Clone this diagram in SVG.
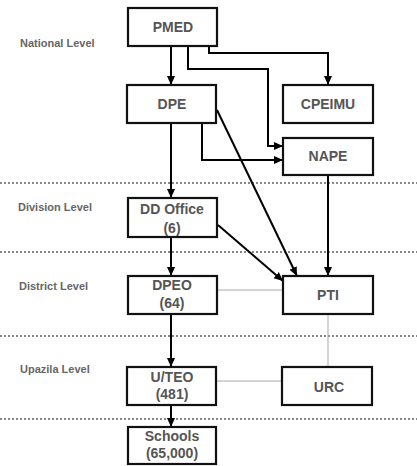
<svg xmlns="http://www.w3.org/2000/svg" width="417" height="466" viewBox="0 0 417 466">
<defs>
<marker id="ah" markerWidth="10" markerHeight="10" refX="9" refY="5" orient="auto" markerUnits="userSpaceOnUse">
<path d="M0,1 L9,5 L0,9 Z" fill="#000"/>
</marker>
<style>
.box{fill:#fff;stroke:#111;stroke-width:2.2}
.t{font-family:"Liberation Sans",Arial,sans-serif;font-weight:bold;font-size:14px;fill:#555;text-anchor:middle}
.lv{font-family:"Liberation Sans",Arial,sans-serif;font-weight:bold;font-size:11px;fill:#666}
.sep{stroke:#888;stroke-width:2;stroke-dasharray:2 2}
.c{fill:none;stroke:#000;stroke-width:2;marker-end:url(#ah)}
.thin{fill:none;stroke:#aaa;stroke-width:1}
</style>
</defs>
<rect width="417" height="466" fill="#fff"/>
<g id="separators">
<line class="sep" x1="0" y1="183" x2="417" y2="183"/>
<line class="sep" x1="0" y1="252" x2="417" y2="252"/>
<line class="sep" x1="0" y1="336" x2="417" y2="336"/>
<line class="sep" x1="0" y1="419" x2="417" y2="419"/>
</g>
<g id="levels">
<text class="lv" x="20" y="47">National Level</text>
<text class="lv" x="18" y="211">Division Level</text>
<text class="lv" x="19" y="290">District Level</text>
<text class="lv" x="20" y="373">Upazila Level</text>
</g>
<g id="connectors">
<path class="c" d="M171,46 V85"/>
<path class="c" d="M188,46 V69 H268 V146 H283"/>
<path class="c" d="M209,46 V53 H328 V85"/>
<path class="c" d="M171,123 V198"/>
<path class="c" d="M202,123 V160 H283"/>
<path class="c" d="M217,110 L297,276"/>
<path class="c" d="M328,175 V276"/>
<path class="c" d="M218,225 L283,281"/>
<path class="c" d="M171,237 V276"/>
<path class="c" d="M171,314 V367"/>
<path class="c" d="M171,405 V427"/>
<path class="thin" d="M217,290 H283"/>
<path class="thin" d="M328,314 V367"/>
<path class="thin" d="M216,381 H282"/>
</g>
<g id="PMED"><rect class="box" x="128" y="8" width="89" height="38"/><text class="t" x="173" y="32">PMED</text></g>
<g id="DPE"><rect class="box" x="127" y="85" width="89" height="38"/><text class="t" x="172" y="109">DPE</text></g>
<g id="CPEIMU"><rect class="box" x="283" y="85" width="90" height="38"/><text class="t" x="328" y="109">CPEIMU</text></g>
<g id="NAPE"><rect class="box" x="283" y="138" width="90" height="37"/><text class="t" x="328" y="161">NAPE</text></g>
<g id="DDOffice"><rect class="box" x="128" y="198" width="89" height="39"/><text class="t" x="172" y="214">DD Office</text><text class="t" x="172" y="233">(6)</text></g>
<g id="DPEO"><rect class="box" x="128" y="276" width="89" height="38"/><text class="t" x="172" y="290">DPEO</text><text class="t" x="172" y="308">(64)</text></g>
<g id="PTI"><rect class="box" x="283" y="276" width="90" height="38"/><text class="t" x="328" y="300">PTI</text></g>
<g id="UTEO"><rect class="box" x="127" y="367" width="89" height="38"/><text class="t" x="172" y="382">U/TEO</text><text class="t" x="172" y="399">(481)</text></g>
<g id="URC"><rect class="box" x="282" y="367" width="90" height="38"/><text class="t" x="329" y="392">URC</text></g>
<g id="Schools"><rect class="box" x="128" y="427" width="88" height="37"/><text class="t" x="172" y="441">Schools</text><text class="t" x="172" y="458">(65,000)</text></g>
</svg>
